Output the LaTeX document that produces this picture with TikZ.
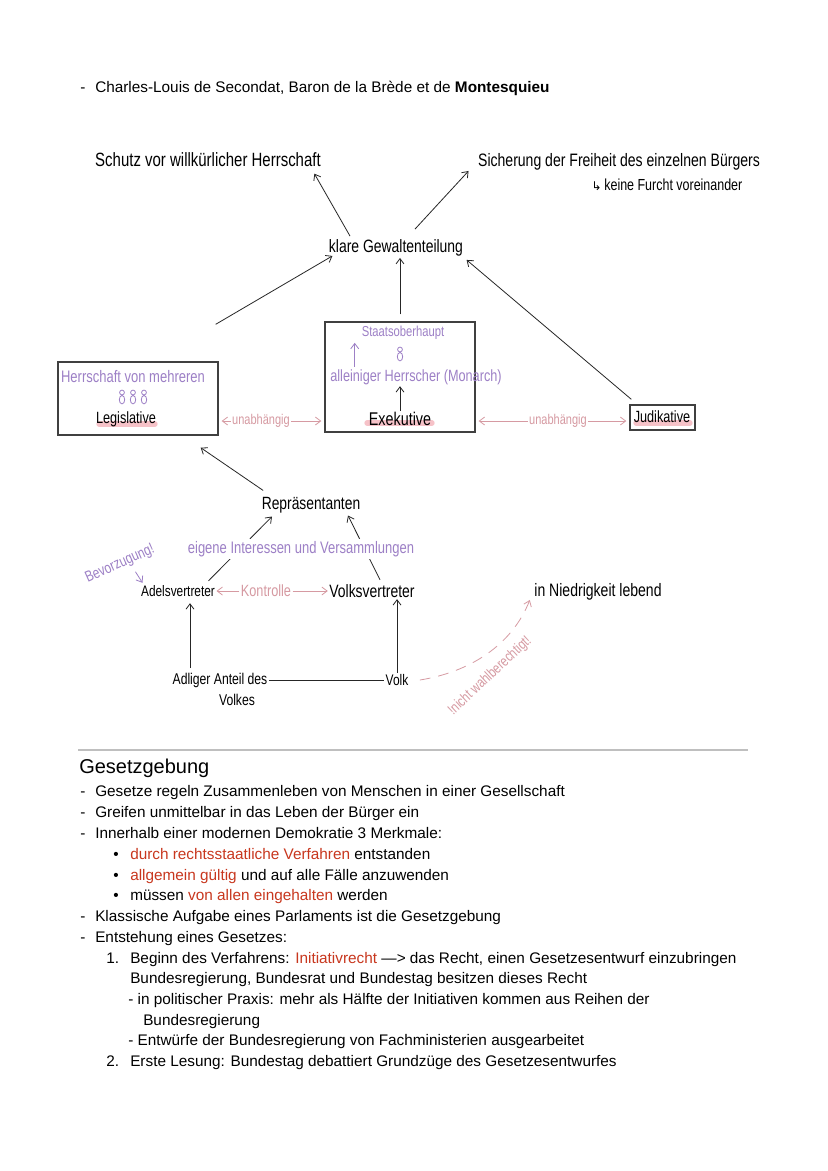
\documentclass[tikz,border=0pt]{standalone}
\usepackage{fontspec}
\setmainfont{Liberation Sans}
\newfontfamily\hand[FakeStretch=0.78]{Liberation Sans}
\newfontfamily\symf{DejaVu Sans}
\usetikzlibrary{arrows.meta,calc}
\definecolor{hred}{HTML}{C8371E}
\definecolor{hpurple}{HTML}{9D80C6}
\definecolor{hpink}{HTML}{D69AA2}
\definecolor{hlight}{HTML}{F2A2AC}
\newcommand\hfs[1]{\hand\fontsize{#1}{#1}\selectfont}
\newcommand\tfs{\fontsize{11.5}{13}\selectfont}
\begin{document}
\begin{tikzpicture}[x=0.75pt,y=-0.75pt,
  hw/.style={font=\hfs{11}, inner sep=1pt},
  hwp/.style={hw, text=hpurple},
  hwk/.style={hw, text=hpink},
  txt/.style={font=\tfs, anchor=base west, inner sep=0pt},
  arr/.style={-{Straight Barb[length=4pt,width=6pt]}, line width=0.6pt, draw=black!85},
  parr/.style={arr, draw=hpink},
  boxed/.style={draw=black!75, line width=1pt, inner sep=0pt},
  hl/.style={draw=hlight, line width=4pt, opacity=0.65, line cap=round},
  person/.pic={\draw[hpurple, line width=0.6pt] (0,-4.5) circle[radius=2.4] (0,2.7) ellipse[x radius=2.7, y radius=4.2];}
]
\fill[white] (0,0) rectangle (828,1171);
\path[use as bounding box] (0,0) rectangle (828,1171);

% title line
\node[txt] (d0) at (80,92) {-};
\node[txt] (l0) at (95,92) {Charles-Louis de Secondat, Baron de la Brède et de \textbf{Montesquieu}};

% top texts
\node[hw, font=\hfs{14.4}] (schutz) at (208,160) {Schutz vor willkürlicher Herrschaft};
\node[hw, font=\hfs{13.5}] (sich) at (619,162) {Sicherung der Freiheit des einzelnen Bürgers};
\node[hw, font=\hfs{12}, anchor=west] (furcht) at (590,185) {{\symf\fontsize{9}{9}\selectfont ↳}\,keine Furcht voreinander};
\node[hw, font=\hfs{13.4}] (klare) at (396,248) {klare Gewaltenteilung};

% boxes
\node[boxed, minimum width=120pt, minimum height=54.75pt] (leg) at (138,398.5) {};
\node[boxed, minimum width=112.5pt, minimum height=82.5pt] (exe) at (400,377) {};
\node[boxed, minimum width=48.75pt, minimum height=18.75pt] (jud) at (662.5,417.5) {};

% legislative contents
\draw[hl] (99,424) -- (155,424);
\node[hwp, font=\hfs{12.5}] (herr) at (133,377) {Herrschaft von mehreren};
\pic at (122,397) {person};
\pic at (133,397) {person};
\pic at (144,397) {person};
\node[hw, font=\hfs{12.2}] (legt) at (126,419) {Legislative};

% executive contents
\node[hwp, font=\hfs{10.8}] (staat) at (403,333) {Staatsoberhaupt};
\pic at (400,354) {person};
\node[hwp, font=\hfs{12.2}] (allein) at (416,377) {alleiniger Herrscher (Monarch)};
\draw[hl] (367,423) -- (432,423);
\node[hw, font=\hfs{13.8}] (exet) at (400,419) {Exekutive};
\draw[arr, draw=hpurple] ($(allein.north west)+(26,-1)$) -- ($(allein.north west)+(26,-25)$);
\draw[arr] (exet.north) -- (exet.north |- allein.south);

% judikative
\draw[hl] (636,423) -- (690,423);
\node[hw, font=\hfs{12.2}] (judt) at (662,417) {Judikative};

% arrows to klare Gewaltenteilung
\draw[arr] ($(exe.north)+(0,-7)$) -- (exe.north |- klare.south);
\draw[arr] ($(leg.north east)+(-3,-37)$) -- ($(klare.south west)+(5,-2)$);
\draw[arr] ($(jud.north west)+(2,-5)$) -- ($(klare.south east)+(2,2)$);
\draw[arr] ($(klare.north)+(-46,-2)$) -- ($(schutz.south east)+(-8,5)$);
\draw[arr] ($(klare.north)+(19,-9)$) -- ($(sich.south west)+(-8,-1)$);

% unabhaengig
\node[hwk, font=\hfs{10.6}] (u1) at (261,421) {unabhängig};
\draw[parr] (u1.west) -- ($(leg.east |- u1.west)+(3,0)$);
\draw[parr] (u1.east) -- ($(exe.west |- u1.east)+(-3,0)$);
\node[hwk, font=\hfs{10.6}] (u2) at (558,421) {unabhängig};
\draw[parr] (u2.west) -- ($(exe.east |- u2.west)+(3,0)$);
\draw[parr] (u2.east) -- ($(jud.west |- u2.east)+(-3,0)$);

% lower part
\node[hw, font=\hfs{13.3}] (rep) at (311,505) {Repräsentanten};
\draw[arr] ($(rep.north west)+(3,-5)$) -- ($(leg.south east)+(-18,12)$);
\node[hw, font=\hfs{11.4}] (adel) at (178,591) {Adelsvertreter};
\node[hw, font=\hfs{13.4}] (volks) at (372,591) {Volksvertreter};
\draw[arr] ($(adel.north east)+(-8,-3)$) -- ($(rep.south)+(-39,2)$);
\draw[arr] ($(volks.north)+(8,-3)$) -- ($(rep.south)+(37,1)$);
\node[hwp, font=\hfs{12.5}, fill=white, inner sep=2pt] (eig) at (301,549) {eigene Interessen und Versammlungen};
\node[hwk, font=\hfs{12.2}] (kon) at (266,591) {Kontrolle};
\draw[parr] (kon.west) -- (adel.east);
\draw[parr] (kon.east) -- (volks.west);
\node[hwp, font=\hfs{11.5}, rotate=24] (bev) at (120,564) {Bevorzugung!};
\draw[arr, draw=hpurple] ($(bev.south)+(12,0)$) -- ($(adel.north west)+(3,-1)$);

\node[hw, font=\hfs{11.7}] (adl) at (220,680) {Adliger Anteil des};
\node[hw, font=\hfs{11.7}] (adl2) at (237,700) {Volkes};
\node[hw, font=\hfs{11.5}] (volk) at (397,680) {Volk};
\draw[arr] ($(adl.north)+(-30,-3)$) -- ($(adel.south)+(12,5)$);
\draw[line width=0.6pt, black!85] (adl.east) -- (volk.west);
\draw[arr] (volk.north) -- (volk.north |- volks.south);
\node[hw, font=\hfs{13.5}] (nied) at (598,592) {in Niedrigkeit lebend};
\draw[parr, dash pattern=on 8pt off 6pt] ($(volk.east)+(10,0)$) .. controls (470,672) and (512,645) .. ($(nied.south west)+(-3,-2)$);
\node[hwk, font=\hfs{11}, rotate=43] (nw) at (490,676) {!nicht wahlberechtigt!};

% separator
\draw[black!25, line width=1.2pt] (78,750) -- (748,750);

% text section
\node[txt, font=\fontsize{15}{18}\selectfont] (hd) at (79,773) {Gesetzgebung};
\node[txt] (a1) at (80,796) {-};
\node[txt] (t1) at (95,796) {Gesetze regeln Zusammenleben von Menschen in einer Gesellschaft};
\node[txt] (a2) at (80,817) {-};
\node[txt] (t2) at (95,817) {Greifen unmittelbar in das Leben der Bürger ein};
\node[txt] (a3) at (80,838) {-};
\node[txt] (t3) at (95,838) {Innerhalb einer modernen Demokratie 3 Merkmale:};
\node[txt] (b1) at (113,859) {•};
\node[txt] (t4) at (130,859) {\textcolor{hred}{durch rechtsstaatliche Verfahren} entstanden};
\node[txt] (b2) at (113,880) {•};
\node[txt] (t5) at (130,880) {\textcolor{hred}{allgemein gültig} und auf alle Fälle anzuwenden};
\node[txt] (b3) at (113,900) {•};
\node[txt] (t6) at (130,900) {müssen \textcolor{hred}{von allen eingehalten} werden};
\node[txt] (a4) at (80,921) {-};
\node[txt] (t7) at (95,921) {Klassische Aufgabe eines Parlaments ist die Gesetzgebung};
\node[txt] (a5) at (80,942) {-};
\node[txt] (t8) at (95,942) {Entstehung eines Gesetzes:};
\node[txt] (n1) at (106,963) {1.};
\node[txt] (t9) at (130,963) {Beginn des Verfahrens: \textcolor{hred}{Initiativrecht} —> das Recht, einen Gesetzesentwurf einzubringen};
\node[txt] (t10) at (130,983) {Bundesregierung, Bundesrat und Bundestag besitzen dieses Recht};
\node[txt] (t11) at (128,1004) {- in politischer Praxis: mehr als Hälfte der Initiativen kommen aus Reihen der};
\node[txt] (t12) at (143,1025) {Bundesregierung};
\node[txt] (t13) at (128,1045) {- Entwürfe der Bundesregierung von Fachministerien ausgearbeitet};
\node[txt] (n2) at (106,1066) {2.};
\node[txt] (t14) at (130,1066) {Erste Lesung: Bundestag debattiert Grundzüge des Gesetzesentwurfes};
\end{tikzpicture}
\end{document}
